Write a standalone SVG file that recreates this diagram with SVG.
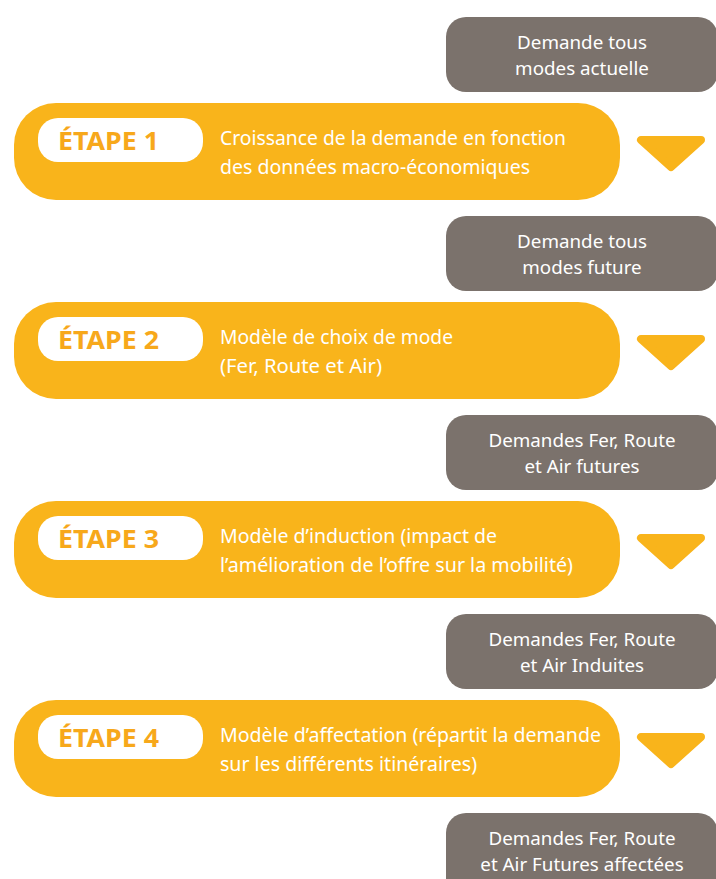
<svg xmlns="http://www.w3.org/2000/svg" width="716" height="879" viewBox="0 0 716 879">
<defs>
<style>
.gbox{fill:#7b726c}
.ybox{fill:#f9b41b}
.pill{fill:#ffffff}
.tri{fill:#f9b41b;stroke:#f9b41b;stroke-width:8;stroke-linejoin:round}
.gt{font-family:"Noto Sans","Liberation Sans",sans-serif;font-size:18.8px;fill:#ffffff;text-anchor:middle}
.yt{font-family:"Noto Sans","Liberation Sans",sans-serif;font-size:19px;fill:#ffffff}
.et{font-family:"Noto Sans","Liberation Sans",sans-serif;font-size:25px;font-weight:bold;fill:#f7a81b}
</style>
</defs>
<rect width="716" height="879" fill="#ffffff"/>
<g id="demande-actuelle">
<rect class="gbox" x="446" y="17" width="272" height="75" rx="20"/>
<text class="gt" x="582" y="49">Demande tous</text>
<text class="gt" x="582" y="75">modes actuelle</text>
</g>
<g id="etape1">
<rect class="ybox" x="14" y="103" width="606" height="97" rx="42"/>
<rect class="pill" x="38" y="118" width="165" height="44" rx="20"/>
<text class="et" x="58" y="150" textLength="101" lengthAdjust="spacingAndGlyphs">ÉTAPE 1</text>
<text class="yt" x="220" y="145" textLength="346" lengthAdjust="spacingAndGlyphs">Croissance de la demande en fonction</text>
<text class="yt" x="220" y="174" textLength="310" lengthAdjust="spacingAndGlyphs">des données macro-économiques</text>
</g>
<g id="demande-future">
<rect class="gbox" x="446" y="216" width="272" height="75" rx="20"/>
<text class="gt" x="582" y="248">Demande tous</text>
<text class="gt" x="582" y="274">modes future</text>
</g>
<g id="etape2">
<rect class="ybox" x="14" y="302" width="606" height="97" rx="42"/>
<rect class="pill" x="38" y="317" width="165" height="44" rx="20"/>
<text class="et" x="58" y="349" textLength="101" lengthAdjust="spacingAndGlyphs">ÉTAPE 2</text>
<text class="yt" x="220" y="344" textLength="233" lengthAdjust="spacingAndGlyphs">Modèle de choix de mode</text>
<text class="yt" x="220" y="373" textLength="162" lengthAdjust="spacingAndGlyphs">(Fer, Route et Air)</text>
</g>
<g id="demandes-futures">
<rect class="gbox" x="446" y="415" width="272" height="75" rx="20"/>
<text class="gt" x="582" y="447">Demandes Fer, Route</text>
<text class="gt" x="582" y="473">et Air futures</text>
</g>
<g id="etape3">
<rect class="ybox" x="14" y="501" width="606" height="97" rx="42"/>
<rect class="pill" x="38" y="516" width="165" height="44" rx="20"/>
<text class="et" x="58" y="548" textLength="101" lengthAdjust="spacingAndGlyphs">ÉTAPE 3</text>
<text class="yt" x="220" y="543" textLength="277" lengthAdjust="spacingAndGlyphs">Modèle d’induction (impact de</text>
<text class="yt" x="220" y="572" textLength="353" lengthAdjust="spacingAndGlyphs">l’amélioration de l’offre sur la mobilité)</text>
</g>
<g id="demandes-induites">
<rect class="gbox" x="446" y="614" width="272" height="75" rx="20"/>
<text class="gt" x="582" y="646">Demandes Fer, Route</text>
<text class="gt" x="582" y="672">et Air Induites</text>
</g>
<g id="etape4">
<rect class="ybox" x="14" y="700" width="606" height="97" rx="42"/>
<rect class="pill" x="38" y="715" width="165" height="44" rx="20"/>
<text class="et" x="58" y="747" textLength="101" lengthAdjust="spacingAndGlyphs">ÉTAPE 4</text>
<text class="yt" x="220" y="742" textLength="381" lengthAdjust="spacingAndGlyphs">Modèle d’affectation (répartit la demande</text>
<text class="yt" x="220" y="771" textLength="257" lengthAdjust="spacingAndGlyphs">sur les différents itinéraires)</text>
</g>
<g id="demandes-affectees">
<rect class="gbox" x="446" y="813" width="272" height="90" rx="20"/>
<text class="gt" x="582" y="845">Demandes Fer, Route</text>
<text class="gt" x="582" y="871">et Air Futures affectées</text>
</g>
<g id="connectors">
<polygon class="tri" points="641,140 701,140 671,167"/>
<polygon class="tri" points="641,339 701,339 671,366"/>
<polygon class="tri" points="641,538 701,538 671,565"/>
<polygon class="tri" points="641,737 701,737 671,764"/>
</g>
</svg>
